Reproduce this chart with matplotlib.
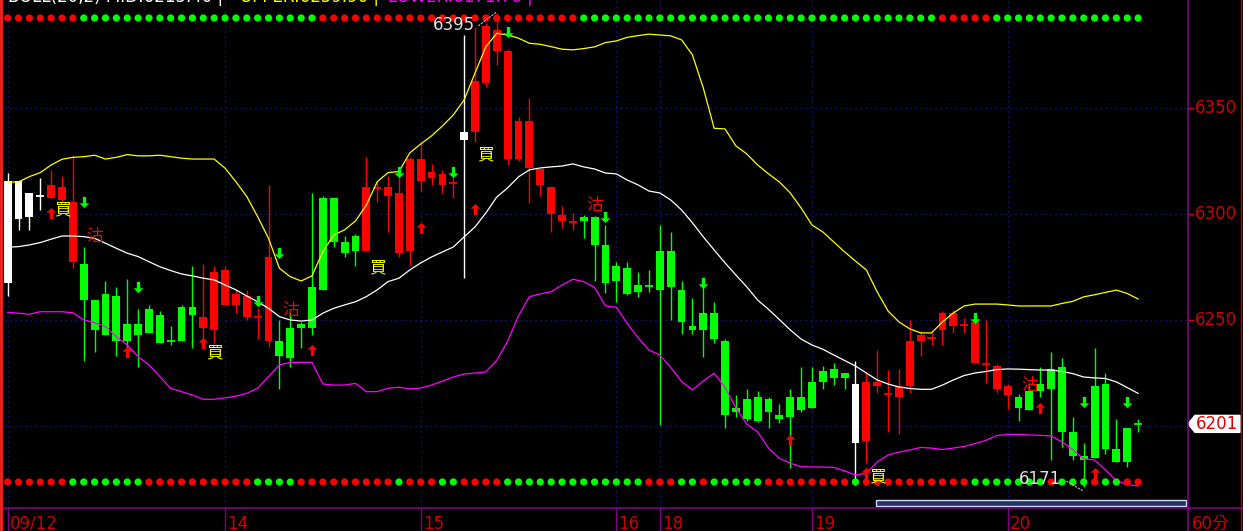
import matplotlib
matplotlib.use("Agg")
import matplotlib.pyplot as plt
from matplotlib.patches import Polygon, Rectangle
from matplotlib.lines import Line2D
from matplotlib.transforms import blended_transform_factory

plt.rcParams['font.family'] = ['DejaVu Sans', 'Noto Sans CJK TC']

# sessions on the time axis (index of first 60-min bar of each day)
day_starts = [0, 20, 38, 56, 60, 74, 92]
day_labels = ['09/12', '14', '15', '16', '18', '19', '20']
price_ticks = [6350, 6300, 6250]
grid_prices = [6350, 6300, 6250, 6200]
last_price = 6201
high_mark = 6395
low_mark = 6171
white_bars = [0, 1, 2, 3, 42, 78]

opens = [6267.6, 6297.6, 6298.7, 6308.5, 6307.7, 6306.6, 6277.5, 6276.4, 6259.4, 6262.3,
         6261.3, 6248.1, 6248.1, 6255.2, 6252.4, 6240.1, 6256.1, 6256.1, 6246.2, 6245.3,
         6257.1, 6257.1, 6251.4, 6251.3, 6240.1, 6240.1, 6246.2, 6248.1, 6265.6, 6307.5,
         6307.5, 6286.8, 6289.6, 6282.5, 6312.3, 6308.5, 6281.6, 6282.5, 6315.6, 6317.0,
         6313.7, 6314.6, 6334.9, 6338.7, 6361.8, 6376.9, 6325.9, 6325.9, 6321.7, 6313.7,
         6300.0, 6296.7, 6296.2, 6298.7, 6298.7, 6285.4, 6275.5, 6274.5, 6266.5, 6266.2,
         6282.5, 6282.5, 6264.2, 6247.2, 6253.3, 6253.3, 6240.1, 6208.5, 6212.7, 6213.7,
         6212.7, 6205.2, 6213.7, 6213.7, 6220.8, 6225.9, 6226.9, 6225.0, 6192.1, 6193.1,
         6218.9, 6215.2, 6213.8, 6218.9, 6240.1, 6241.6, 6245.3, 6247.2, 6247.8, 6229.9,
         6229.2, 6217.6, 6214.8, 6213.7, 6216.5, 6219.8, 6226.9, 6227.8, 6197.2, 6186.0,
         6218.9, 6219.8, 6189.2, 6199.1, 6201.0]
closes = [6315.6, 6315.6, 6309.9, 6308.5, 6313.7, 6312.7, 6305.8, 6259.4, 6245.3, 6242.9,
          6240.1, 6240.1, 6242.9, 6243.9, 6239.2, 6240.1, 6240.1, 6252.4, 6251.4, 6272.6,
          6273.6, 6262.3, 6261.3, 6251.3, 6279.7, 6233.0, 6232.1, 6246.2, 6246.2, 6264.2,
          6286.8, 6281.6, 6282.5, 6312.7, 6312.3, 6312.7, 6309.9, 6325.9, 6325.9, 6319.8,
          6318.9, 6314.6, 6338.7, 6362.7, 6388.7, 6386.8, 6376.9, 6343.9, 6343.9, 6321.2,
          6312.7, 6299.5, 6296.2, 6296.8, 6285.4, 6267.6, 6268.5, 6262.4, 6263.3, 6266.2,
          6264.3, 6265.7, 6249.2, 6245.4, 6245.4, 6241.2, 6205.3, 6206.7, 6203.2, 6202.5,
          6206.7, 6203.3, 6204.4, 6207.7, 6208.5, 6220.8, 6222.6, 6222.6, 6219.8, 6220.8,
          6220.8, 6215.2, 6218.9, 6240.1, 6242.9, 6241.6, 6253.4, 6253.2, 6247.8, 6249.2,
          6229.2, 6228.4, 6218.9, 6208.6, 6207.7, 6216.5, 6217.6, 6197.3, 6186.0, 6184.0,
          6184.9, 6189.2, 6183.0, 6183.0, 6201.0]
highs = [6319.5, 6315.6, 6309.9, 6316.8, 6320.8, 6317.9, 6327.8, 6284.6, 6259.4, 6268.4,
         6265.7, 6269.3, 6255.0, 6257.1, 6254.2, 6247.2, 6257.1, 6275.5, 6276.4, 6275.5,
         6275.5, 6264.2, 6264.2, 6255.5, 6313.7, 6250.0, 6253.8, 6249.1, 6309.9, 6308.5,
         6307.5, 6289.6, 6290.6, 6326.9, 6315.6, 6317.9, 6319.8, 6326.9, 6333.5, 6323.6,
         6320.8, 6319.8, 6384.4, 6388.2, 6390.1, 6395.0, 6377.8, 6345.8, 6354.7, 6321.2,
         6312.7, 6303.8, 6300.5, 6299.5, 6299.0, 6294.8, 6277.4, 6277.4, 6272.6, 6273.6,
         6294.8, 6291.6, 6268.4, 6260.4, 6268.9, 6258.5, 6241.0, 6214.6, 6217.5, 6216.5,
         6213.7, 6210.4, 6217.5, 6227.8, 6227.8, 6228.3, 6229.7, 6225.0, 6230.7, 6225.5,
         6235.8, 6226.4, 6226.9, 6250.0, 6245.0, 6244.0, 6254.1, 6254.7, 6250.9, 6250.0,
         6250.0, 6229.2, 6219.8, 6215.1, 6220.3, 6227.8, 6234.9, 6232.1, 6204.2, 6192.1,
         6236.8, 6225.0, 6203.3, 6199.1, 6203.3]
lows = [6261.5, 6292.5, 6292.5, 6301.9, 6307.7, 6305.7, 6274.7, 6230.8, 6235.0, 6242.9,
        6233.2, 6236.3, 6228.0, 6243.9, 6239.2, 6238.2, 6240.1, 6236.9, 6239.0, 6239.0,
        6257.1, 6253.2, 6250.0, 6241.0, 6237.3, 6217.5, 6228.0, 6236.9, 6242.9, 6264.2,
        6284.4, 6279.9, 6275.5, 6282.5, 6305.8, 6291.6, 6279.9, 6275.9, 6310.8, 6313.7,
        6309.9, 6307.5, 6269.8, 6334.0, 6359.9, 6370.3, 6323.1, 6325.0, 6305.2, 6308.5,
        6291.5, 6293.4, 6292.5, 6288.8, 6268.5, 6262.7, 6258.6, 6261.8, 6260.8, 6263.3,
        6200.5, 6250.0, 6243.4, 6243.4, 6232.5, 6239.3, 6199.2, 6204.4, 6202.5, 6201.9,
        6199.2, 6201.6, 6180.2, 6206.7, 6208.5, 6217.6, 6219.3, 6217.6, 6172.0, 6182.5,
        6215.7, 6197.3, 6196.4, 6215.6, 6233.0, 6238.2, 6238.2, 6244.0, 6243.7, 6229.9,
        6220.3, 6215.7, 6207.9, 6202.5, 6207.7, 6213.8, 6184.0, 6190.2, 6184.0, 6171.0,
        6184.9, 6186.8, 6183.0, 6180.7, 6197.3]

# bollinger bands
upper = [6315.0, 6315.1, 6317.6, 6319.5, 6323.1, 6325.8, 6326.7, 6327.0, 6327.7, 6325.9,
         6326.7, 6328.0, 6327.4, 6327.4, 6327.7, 6327.0, 6326.3, 6325.9, 6325.9, 6325.9,
         6321.6, 6315.2, 6308.2, 6298.7, 6288.5, 6274.4, 6270.4, 6268.4, 6270.8, 6282.2,
         6290.1, 6292.5, 6296.7, 6304.2, 6315.2, 6319.5, 6320.0, 6328.8, 6333.0, 6336.8,
         6341.5, 6346.7, 6353.8, 6366.5, 6378.9, 6385.2, 6384.4, 6382.9, 6380.5, 6380.0,
         6378.9, 6377.7, 6377.4, 6378.0, 6378.8, 6380.8, 6381.6, 6383.3, 6384.1, 6384.8,
         6384.4, 6384.0, 6382.1, 6375.0, 6359.4, 6340.4, 6340.1, 6332.1, 6328.3, 6323.1,
         6318.9, 6315.1, 6309.9, 6302.8, 6294.8, 6291.5, 6286.8, 6282.1, 6277.8, 6273.6,
         6263.2, 6254.2, 6249.1, 6245.8, 6243.9, 6243.9, 6249.1, 6253.3, 6256.6, 6257.5,
         6257.5, 6257.5, 6257.1, 6256.6, 6256.6, 6256.6, 6256.6, 6257.8, 6258.8, 6260.9,
         6261.9, 6263.0, 6264.1, 6262.5, 6259.9]
middle = [6284.3, 6284.6, 6285.4, 6286.5, 6288.1, 6289.6, 6289.6, 6289.3, 6288.5, 6286.2,
          6283.8, 6281.5, 6279.9, 6277.5, 6275.1, 6273.3, 6271.7, 6270.8, 6269.7, 6268.9,
          6266.5, 6264.2, 6261.3, 6258.6, 6255.5, 6251.6, 6250.0, 6249.5, 6250.0, 6253.2,
          6255.5, 6257.1, 6258.6, 6261.0, 6264.2, 6268.1, 6269.7, 6273.6, 6276.9, 6279.7,
          6282.1, 6284.4, 6289.2, 6293.9, 6300.5, 6308.0, 6312.3, 6317.5, 6320.8, 6321.7,
          6322.2, 6322.6, 6323.6, 6322.2, 6321.2, 6319.3, 6318.9, 6316.0, 6313.7, 6310.8,
          6309.9, 6306.6, 6301.9, 6295.8, 6289.2, 6283.0, 6276.9, 6271.2, 6265.6, 6259.4,
          6255.0, 6250.2, 6245.3, 6241.0, 6238.2, 6236.2, 6233.5, 6230.9, 6228.3, 6225.0,
          6221.7, 6219.8, 6218.4, 6217.7, 6217.3, 6217.3, 6219.3, 6221.7, 6223.8, 6225.0,
          6225.7, 6226.6, 6226.9, 6226.8, 6226.6, 6226.4, 6226.4, 6225.7, 6224.7, 6223.1,
          6222.7, 6222.4, 6220.8, 6218.1, 6215.4]
lower = [6253.6, 6253.2, 6252.7, 6253.9, 6253.9, 6253.9, 6253.4, 6250.0, 6248.7, 6246.8,
         6242.1, 6238.2, 6232.7, 6228.8, 6223.3, 6217.8, 6216.2, 6214.6, 6212.6, 6212.6,
         6213.3, 6214.1, 6215.4, 6217.8, 6223.3, 6228.8, 6230.0, 6230.0, 6230.0, 6219.8,
         6219.3, 6219.3, 6220.1, 6216.2, 6216.2, 6217.8, 6218.3, 6217.5, 6217.9, 6219.3,
         6221.2, 6223.1, 6224.5, 6225.0, 6225.5, 6231.0, 6240.0, 6252.0, 6261.0, 6262.3,
         6263.3, 6266.5, 6269.2, 6268.1, 6265.3, 6256.6, 6256.0, 6248.3, 6241.7, 6235.8,
         6233.5, 6227.6, 6221.0, 6217.0, 6221.2, 6224.9, 6218.2, 6208.5, 6200.9, 6197.2,
         6189.6, 6184.7, 6182.5, 6180.8, 6180.7, 6180.6, 6180.5, 6178.8, 6176.9, 6177.7,
         6183.0, 6186.3, 6187.7, 6188.7, 6189.9, 6189.6, 6188.9, 6189.6, 6190.4, 6191.7,
         6193.2, 6195.5, 6196.0, 6196.0, 6195.8, 6195.6, 6195.3, 6192.5, 6188.9, 6184.4,
         6184.0, 6179.2, 6174.2, 6172.4, 6171.7]

# signal dot rows (run lengths of red / green)
top_runs = [('r', 7), ('g', 22), ('r', 24), ('g', 33), ('r', 5), ('g', 14)]
bottom_runs = [('r', 6), ('g', 7), ('r', 10), ('g', 4), ('r', 9), ('g', 1), ('r', 3), ('g', 2),
               ('r', 4), ('g', 13), ('r', 3), ('g', 2), ('r', 1), ('g', 5), ('r', 8), ('g', 1),
               ('r', 10), ('g', 7), ('r', 1), ('g', 3), ('r', 1), ('g', 2), ('r', 2)]

up_idx = [4, 11, 18, 28, 38, 43, 72, 79, 95, 100]
up_price = [6300.5, 6234.9, 6239.2, 6235.8, 6293.4, 6302.4, 6193.4, 6177.8, 6208.5, 6177.8]
down_idx = [7, 12, 23, 25, 36, 41, 46, 55, 64, 89, 99, 103]
down_price = [6305.7, 6265.6, 6259.0, 6281.6, 6319.8, 6319.8, 6385.8, 6298.6, 6267.5, 6250.9, 6211.3, 6211.3]
buy_idx = [5, 19, 34, 44, 80]
buy_price = [6301.9, 6234.4, 6274.5, 6327.8, 6176.0]
sell_idx = [8, 26, 54, 94]
sell_price = [6289.2, 6254.7, 6304.2, 6219.3]

RED = '#ff0000'
GREEN = '#00ff00'
TXT_RED = '#cc0000'
PURPLE = '#800080'
GRID = '#1a1aa0'

W, H = 1243, 531
fig = plt.figure(figsize=(W / 100, H / 100), dpi=100, facecolor='black')
ax = fig.add_axes([0, 24 / H, 1187 / W, 507 / H])
ax.set_facecolor('black')
ax.set_xlim(-0.704, 108.5)
ax.set_ylim(6161.8, 6400.9)
for s in ax.spines.values():
    s.set_visible(False)
ax.set_xticks([])
ax.set_yticks([])


def fx(px):
    return px / W


def fy(py):
    return 1 - py / H


for p in grid_prices:
    ax.axhline(p, color=GRID, lw=0.9, ls=(0, (1, 3)), zorder=1)
for d in day_starts:
    ax.axvline(d, color=GRID, lw=0.9, ls=(0, (1, 3)), zorder=1)

n = len(opens)
xs = list(range(n))
colors = []
for i in xs:
    if i in white_bars:
        colors.append('#ffffff')
    elif closes[i] > opens[i]:
        colors.append(RED)
    elif closes[i] < opens[i]:
        colors.append(GREEN)
    else:
        colors.append(colors[-1])

ax.vlines(xs, lows, highs, colors=colors, lw=1.0, zorder=3)
for i in xs:
    o, c = opens[i], closes[i]
    if o == c:
        ax.hlines(o, i - 0.38, i + 0.38, colors=colors[i], lw=1.3, zorder=4)
    else:
        ax.bar(i, abs(c - o), bottom=min(o, c), width=0.72, color=colors[i], linewidth=0, zorder=4)

ax.plot(xs, upper, color='#ffff00', lw=0.9, zorder=5)
ax.plot(xs, middle, color='#ffffff', lw=0.9, zorder=5)
ax.plot(xs, lower, color='#ff00ff', lw=0.9, zorder=5)

trans = blended_transform_factory(ax.transData, ax.transAxes)
top_cols, bot_cols = [], []
for c, k in top_runs:
    top_cols += [RED if c == 'r' else GREEN] * k
for c, k in bottom_runs:
    bot_cols += [RED if c == 'r' else GREEN] * k
ax.scatter(xs, [1 - 18 / 507] * n, c=top_cols, s=27, linewidths=0, transform=trans, zorder=6, clip_on=False)
ax.scatter(xs, [1 - 482 / 507] * n, c=bot_cols, s=27, linewidths=0, transform=trans, zorder=6, clip_on=False)

up_arrow = [(0, 1), (-0.9, 0.15), (-0.3, 0.15), (-0.3, -1), (0.3, -1), (0.3, 0.15), (0.9, 0.15), (0, 1)]
down_arrow = [(x, -y) for x, y in up_arrow]
ax.plot(up_idx, up_price, ls='none', marker=up_arrow, ms=8, mfc=RED, mec=RED, mew=0, zorder=7)
ax.plot(down_idx, down_price, ls='none', marker=down_arrow, ms=8, mfc=GREEN, mec=GREEN, mew=0, zorder=7)

for i, p in zip(buy_idx, buy_price):
    ax.text(i, p, '買', color='#ffff00', fontsize=12, ha='center', va='center',
            family=['Noto Sans CJK TC'], zorder=8)
for i, p in zip(sell_idx, sell_price):
    ax.text(i, p, '沽', color=RED, fontsize=12, ha='center', va='center',
            family=['Noto Sans CJK TC'], zorder=8)

# high / low annotations
ax.text(41.1, high_mark - 5.8, str(high_mark), color='#e0e0e0', fontsize=12, ha='center', va='center', zorder=8)
ax.plot([43.3, 45.0], [high_mark - 6.3, high_mark + 0.3], color='#c0c0c0', lw=0.8, ls=(0, (2, 1)), zorder=8)
ax.text(95.0, low_mark + 4.0, str(low_mark), color='#e0e0e0', fontsize=12, ha='center', va='center', zorder=8)
ax.plot([97.4, 98.9], [low_mark + 3.0, low_mark - 1.5], color='#c0c0c0', lw=0.8, ls=(0, (2, 1)), zorder=8)

# right price scale
ytr = blended_transform_factory(ax.transAxes, ax.transData)
for p in price_ticks:
    ax.text(1195 / 1187, p, str(p), transform=ytr, color=TXT_RED, fontsize=12,
            ha='left', va='center', clip_on=False)
    ax.plot([1188 / 1187, 1193 / 1187], [p, p], transform=ytr, color=TXT_RED, lw=1, clip_on=False)

ly = 108 + (6350 - last_price) * 2.12
box = Polygon([(fx(1188), fy(ly)), (fx(1195), fy(ly - 8.5)), (fx(1240), fy(ly - 8.5)),
               (fx(1240), fy(ly + 8.5)), (fx(1195), fy(ly + 8.5))],
              closed=True, facecolor='white', edgecolor='white', transform=fig.transFigure)
fig.add_artist(box)
fig.text(fx(1196), fy(ly), str(last_price), color='#e00000', fontsize=12, ha='left', va='center')

# frame lines
fig.add_artist(Line2D([0, 1], [fy(507.5), fy(507.5)], color=PURPLE, lw=1.2))
fig.add_artist(Line2D([fx(1187.5), fx(1187.5)], [0, 1], color=PURPLE, lw=1.2))
fig.add_artist(Line2D([fx(1.2), fx(1.2)], [0, 1], color='#ff2020', lw=2.0))
fig.add_artist(Line2D([fx(1240.5), fx(1240.5)], [0, 1], color='#c00000', lw=1.0))

for d, lab in zip(day_starts, day_labels):
    px = 7.65 + 10.87 * d
    fig.add_artist(Line2D([fx(px), fx(px)], [fy(507.5), 0], color=PURPLE, lw=1.0))
    fig.text(fx(px + 2), fy(529), lab, color=TXT_RED, fontsize=12, ha='left', va='baseline')
fig.text(fx(1192), fy(529), '60分', color=TXT_RED, fontsize=12, ha='left', va='baseline')

fig.add_artist(Rectangle((fx(876), fy(506)), (1186 - 876) / W, 6 / H, facecolor='#1f3563',
                         edgecolor='#d0d8f0', lw=1.0, transform=fig.transFigure))

# header line, mostly cut off at the top edge as in the original screen
fig.text(fx(8), fy(2), 'BOLL(20,2) MID:6215.40 |', color='white', fontsize=12, va='baseline')
fig.text(fx(240), fy(2), 'UPPER:6259.90 |', color='#ffff00', fontsize=12, va='baseline')
fig.text(fx(388), fy(2), 'LOWER:6171.70 |', color='#ff00ff', fontsize=12, va='baseline')

fig.savefig('out.png', dpi=100, facecolor='black')
